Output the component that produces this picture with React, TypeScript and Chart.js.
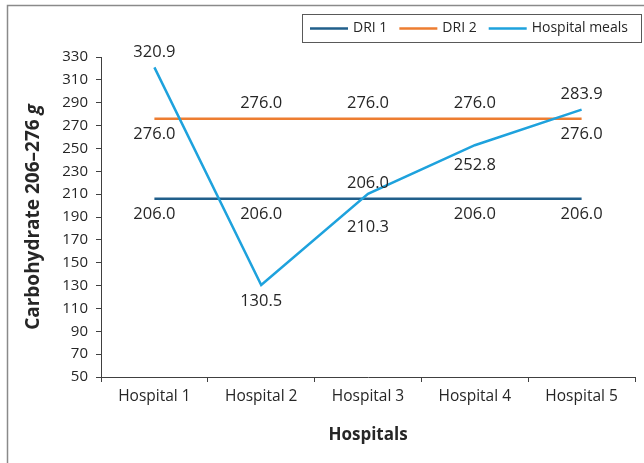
import React, { useEffect, useRef } from "react";
import { Chart, registerables } from "chart.js";

Chart.register(...registerables);

// Categories and series
const categories = ["Hospital 1", "Hospital 2", "Hospital 3", "Hospital 4", "Hospital 5"];
const dri1 = [206.0, 206.0, 206.0, 206.0, 206.0];
const dri2 = [276.0, 276.0, 276.0, 276.0, 276.0];
const hospitalMeals = [320.9, 130.5, 210.3, 252.8, 283.9];

// Axis range
const yMin = 50;
const yMax = 330;
const yStep = 20;

// Where each value label sits relative to its point
const dri1LabelPos = ["below", "below", "above", "below", "below"];
const dri2LabelPos = ["below", "above", "above", "above", "below"];
const mealsLabelPos = ["above", "below", "far-below", "lower", "above"];

const labelOffsets: Record<string, number> = {
  above: -15,
  below: 16,
  lower: 20,
  "far-below": 33,
};

const seriesNames = ["DRI 1", "DRI 2", "Hospital meals"];
const seriesColors = ["#215f8b", "#ed7d31", "#1ea2dd"];

const FONT = "'Open Sans', sans-serif";
const TEXT = "#262626";

const valueLabels = {
  id: "valueLabels",
  afterDatasetsDraw(chart: any) {
    const ctx = chart.ctx;
    const positions = [dri1LabelPos, dri2LabelPos, mealsLabelPos];
    ctx.save();
    ctx.font = `16.5px ${FONT}`;
    ctx.fillStyle = TEXT;
    ctx.textAlign = "center";
    ctx.textBaseline = "middle";
    chart.data.datasets.forEach((ds: any, di: number) => {
      const meta = chart.getDatasetMeta(di);
      meta.data.forEach((pt: any, i: number) => {
        const dy = labelOffsets[positions[di][i]];
        ctx.fillText(Number(ds.data[i]).toFixed(1), pt.x, pt.y + dy);
      });
    });
    ctx.restore();
  },
};

const frameAndLegend = {
  id: "frameAndLegend",
  afterDraw(chart: any) {
    const ctx = chart.ctx;
    const W = chart.width;
    const H = chart.height;
    ctx.save();

    // outer frame (left and top edges)
    ctx.strokeStyle = "#8a8a8a";
    ctx.lineWidth = 1.5;
    ctx.beginPath();
    ctx.moveTo(7.5, H);
    ctx.lineTo(7.5, 5.5);
    ctx.lineTo(W, 5.5);
    ctx.stroke();

    // legend box
    const bx = 302, by = 14, bw = 339, bh = 28;
    ctx.strokeStyle = "#595959";
    ctx.lineWidth = 1;
    ctx.strokeRect(bx + 0.5, by + 0.5, bw, bh);
    ctx.font = `14px ${FONT}`;
    ctx.fillStyle = TEXT;
    ctx.textAlign = "left";
    ctx.textBaseline = "middle";
    let x = bx + 8;
    const cy = by + bh / 2 + 0.5;
    seriesNames.forEach((name, i) => {
      ctx.strokeStyle = seriesColors[i];
      ctx.lineWidth = 2.5;
      ctx.beginPath();
      ctx.moveTo(x, cy);
      ctx.lineTo(x + 38, cy);
      ctx.stroke();
      x += 43;
      ctx.fillText(name, x, cy);
      x += ctx.measureText(name).width + 12;
    });

    // y-axis title with italic unit
    const area = chart.chartArea;
    const midY = (area.top + area.bottom) / 2;
    ctx.translate(34, midY);
    ctx.rotate(-Math.PI / 2);
    const main = "Carbohydrate 206\u2013276 ";
    const unit = "g";
    ctx.font = `bold 19px ${FONT}`;
    const w1 = ctx.measureText(main).width;
    ctx.font = `italic bold 19px ${FONT}`;
    const w2 = ctx.measureText(unit).width;
    const tx = -(w1 + w2) / 2;
    ctx.fillStyle = TEXT;
    ctx.textBaseline = "middle";
    ctx.textAlign = "left";
    ctx.font = `bold 19px ${FONT}`;
    ctx.fillText(main, tx, 0);
    ctx.font = `italic bold 19px ${FONT}`;
    ctx.fillText(unit, tx + w1, 0);
    ctx.restore();
  },
};

export default function App() {
  const canvasRef = useRef<HTMLCanvasElement | null>(null);

  useEffect(() => {
    if (!canvasRef.current) return;
    const chart = new Chart(canvasRef.current, {
      type: "line",
      data: {
        labels: categories,
        datasets: [
          { label: seriesNames[0], data: dri1, borderColor: seriesColors[0], order: 2 },
          { label: seriesNames[1], data: dri2, borderColor: seriesColors[1], order: 1 },
          { label: seriesNames[2], data: hospitalMeals, borderColor: seriesColors[2], order: 0 },
        ].map((d) => ({
          ...d,
          borderWidth: 2.5,
          pointRadius: 0,
          tension: 0,
          fill: false,
        })),
      },
      options: {
        animation: false,
        responsive: false,
        layout: { padding: { left: 0, top: 57, right: 9, bottom: 0 } },
        plugins: {
          legend: { display: false },
          tooltip: { enabled: false },
          title: { display: false },
        },
        scales: {
          x: {
            type: "category",
            offset: true,
            afterFit: (s: any) => {
              s.height = 86;
            },
            grid: {
              offset: true,
              drawOnChartArea: false,
              tickLength: 5,
              color: "#404040",
            },
            border: { color: "#404040", width: 1 },
            ticks: {
              color: TEXT,
              font: { family: FONT, size: 15.5 },
              padding: 5,
              maxRotation: 0,
            },
            title: {
              display: true,
              text: "Hospitals",
              color: TEXT,
              font: { family: FONT, size: 17, weight: "bold" },
              padding: { top: 10, bottom: 18 },
            },
          },
          y: {
            min: yMin,
            max: yMax,
            afterFit: (s: any) => {
              s.width = 101;
            },
            grid: {
              drawOnChartArea: false,
              tickLength: 5,
              color: "#404040",
            },
            border: { color: "#404040", width: 1 },
            ticks: {
              stepSize: yStep,
              color: TEXT,
              font: { family: FONT, size: 15 },
              padding: 8,
            },
          },
        },
      },
      plugins: [valueLabels, frameAndLegend],
    });
    return () => chart.destroy();
  }, []);

  return (
    <div style={{ position: "absolute", left: 0, top: 0, width: 644, height: 463, background: "#fff" }}>
      <canvas ref={canvasRef} width={644} height={463} style={{ display: "block" }} />
    </div>
  );
}
